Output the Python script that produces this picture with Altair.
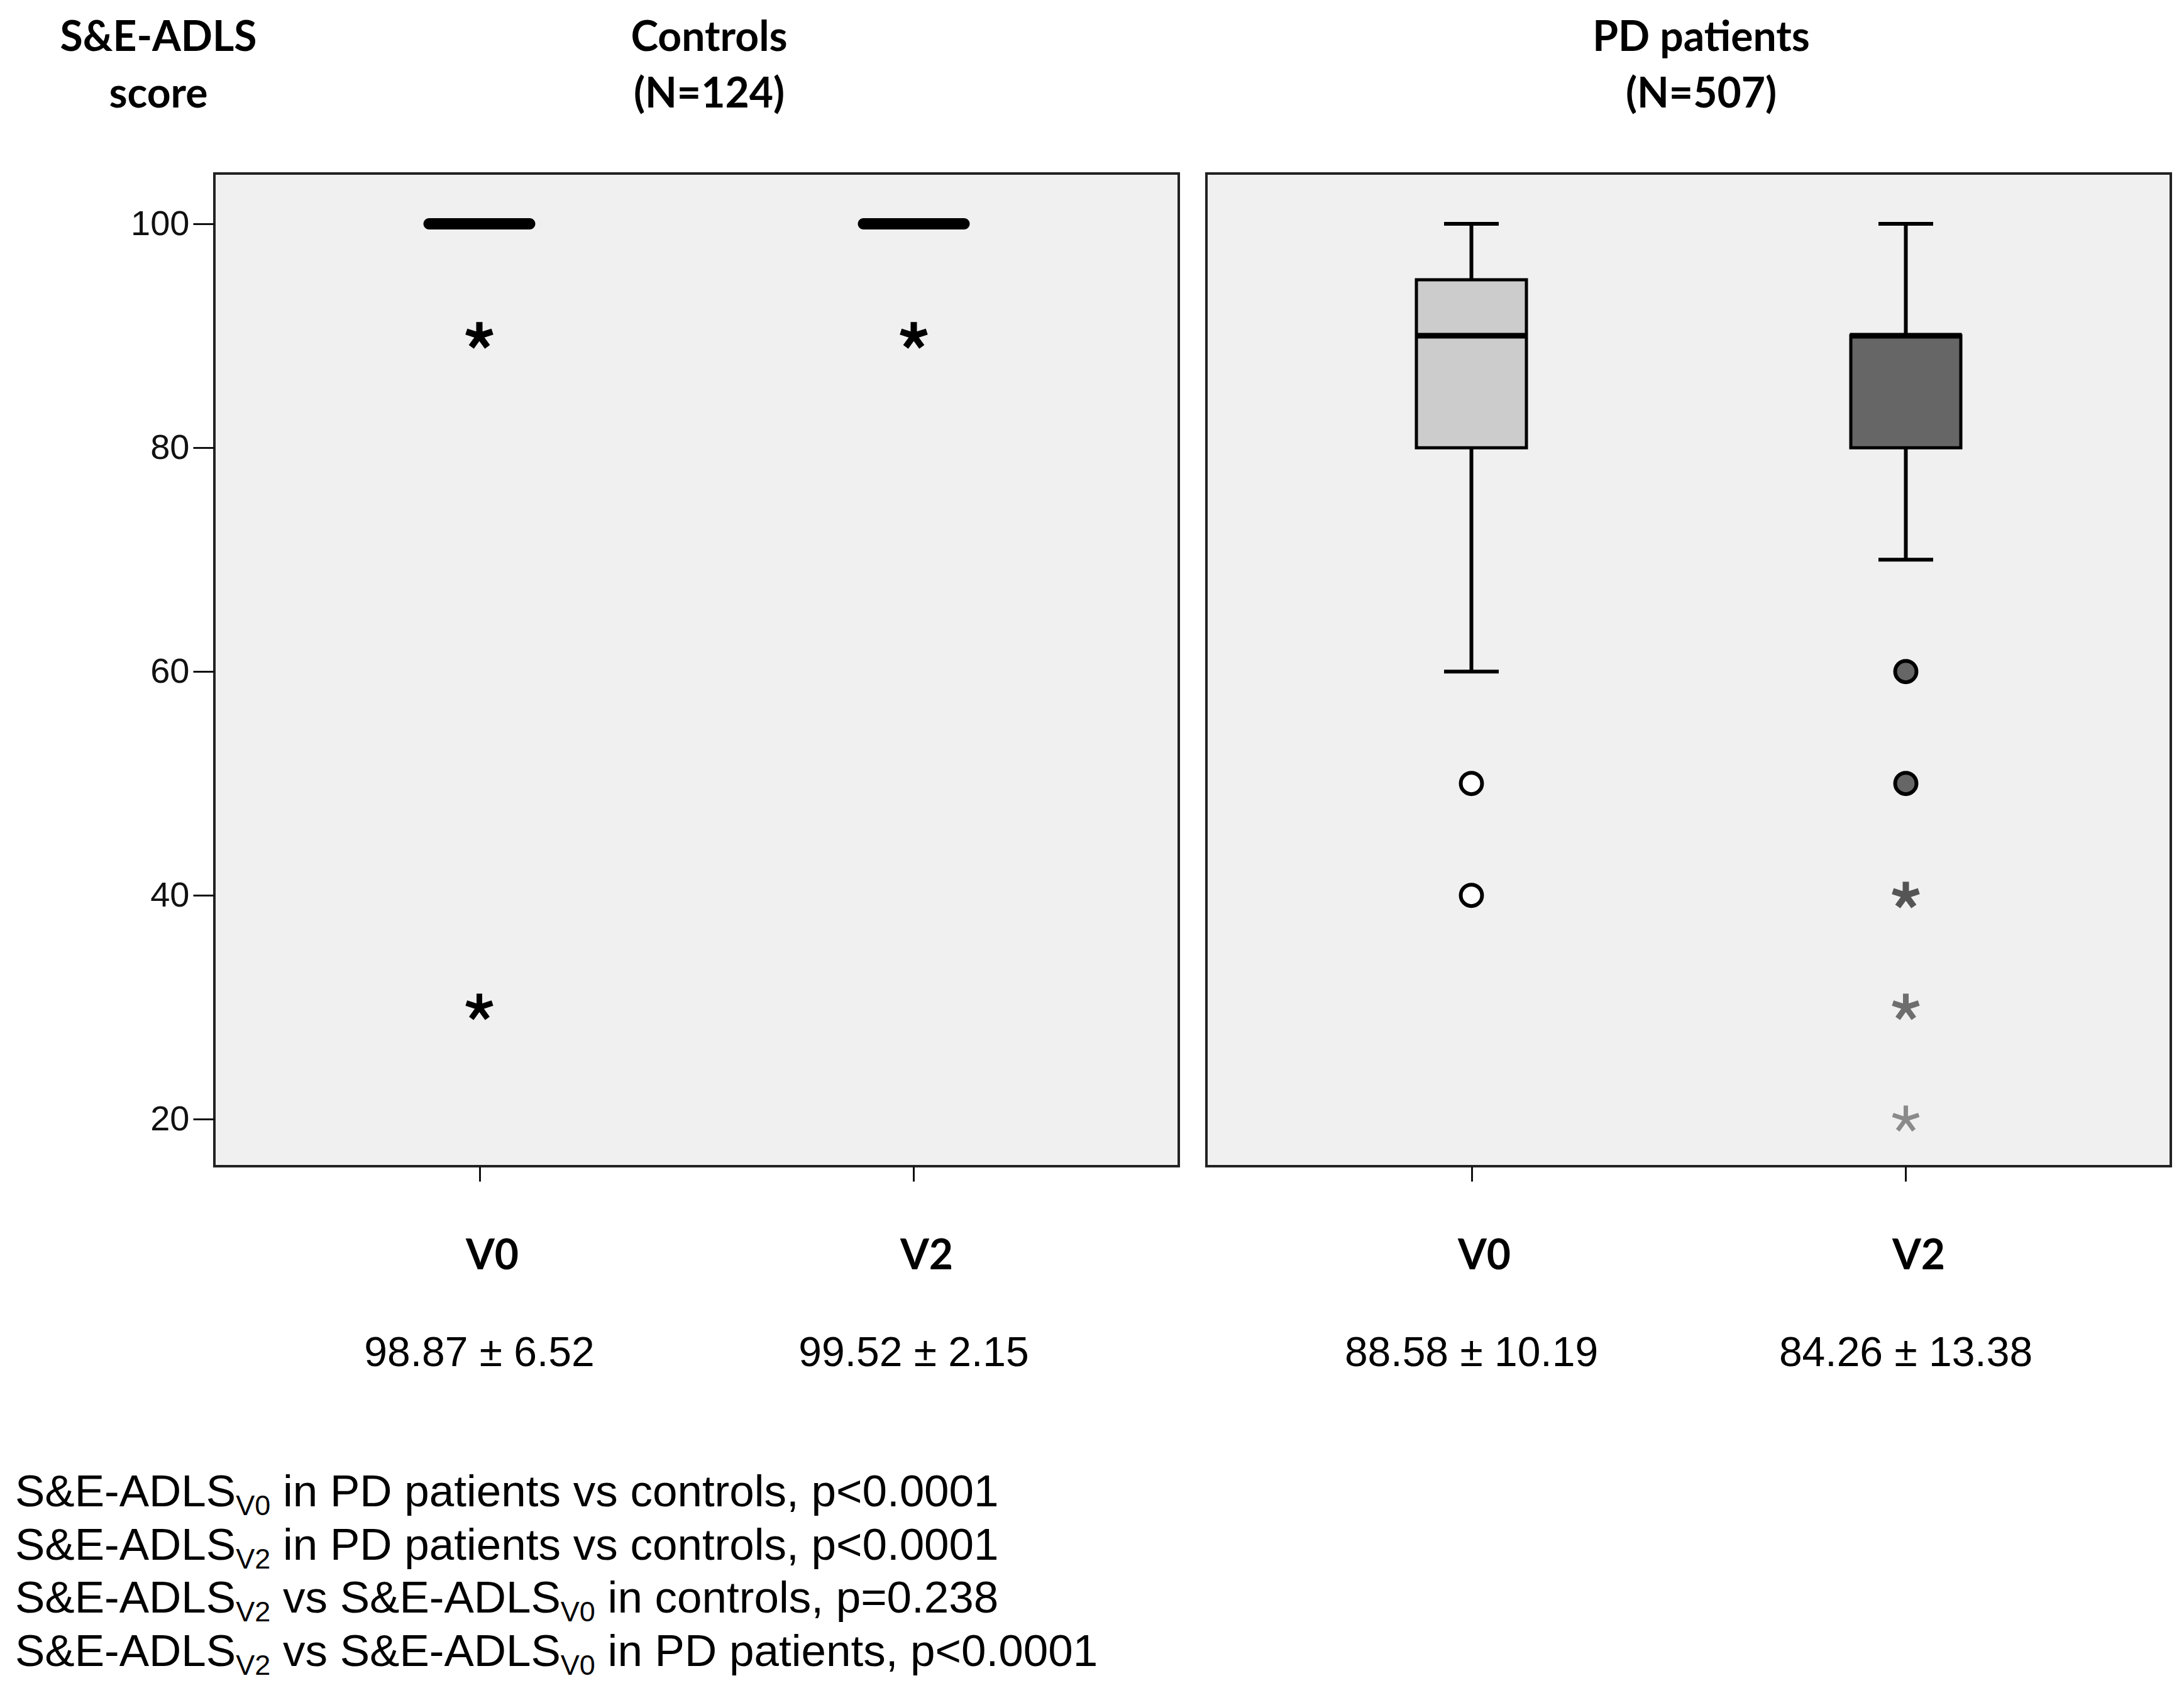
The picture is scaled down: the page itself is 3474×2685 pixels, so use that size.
import altair as alt
import pandas as pd

# ---------------- data ----------------
groups = ["Controls", "PD patients"]
group_n = ["(N=124)", "(N=507)"]
visits = ["V0", "V2"]

whisker_low = [[100, 100], [60, 70]]
q1 = [[100, 100], [80, 80]]
median = [[100, 100], [90, 90]]
q3 = [[100, 100], [95, 90]]
whisker_high = [[100, 100], [100, 100]]

# outliers (circles): group index, visit, value
out_group = [1, 1, 1, 1]
out_visit = ["V0", "V0", "V2", "V2"]
out_value = [50, 40, 60, 50]

# extremes (asterisks)
ext_group = [0, 0, 0, 1, 1, 1]
ext_visit = ["V0", "V0", "V2", "V2", "V2", "V2"]
ext_value = [90, 30, 90, 40, 30, 20]

mean_sd = [["98.87 ± 6.52", "99.52 ± 2.15"], ["88.58 ± 10.19", "84.26 ± 13.38"]]

y_title = ["S&E-ADLS", "score"]
y_ticks = [20, 40, 60, 80, 100]

foot_lines = [
    [("S&E-ADLS", "m"), ("V0", "s"), (" in PD patients vs controls, p<0.0001", "m")],
    [("S&E-ADLS", "m"), ("V2", "s"), (" in PD patients vs controls, p<0.0001", "m")],
    [("S&E-ADLS", "m"), ("V2", "s"), (" vs S&E-ADLS", "m"), ("V0", "s"), (" in controls, p=0.238", "m")],
    [("S&E-ADLS", "m"), ("V2", "s"), (" vs S&E-ADLS", "m"), ("V0", "s"), (" in PD patients, p<0.0001", "m")],
]

# ---------------- styles ----------------
W, H = 1534, 1579
Y_DOMAIN = [15.8, 104.5]
BOX_FILL = {"V0": "#cccccc", "V2": "#666666"}
OUT_FILL = {"V0": "#ffffff", "V2": "#666666"}
EXT_COLOR = ["#000000", "#000000", "#000000", "#555555", "#6e6e6e", "#8a8a8a"]
EXT_WIDTH = [10, 9, 10, 10, 9, 7]
MEDIAN_THICK = [18, 9]
STAR = ("M0,0L0,-1M0,0L0.951,-0.309M0,0L0.588,0.809M0,0L-0.588,0.809M0,0L-0.951,-0.309")
BOLD_FONT = "Lato"
REG_FONT = "Liberation Sans"

ARIAL = {' ': 278, '&': 667, ',': 278, '-': 333, '.': 278, '<': 584, '=': 584, 'A': 667,
         'D': 722, 'E': 667, 'L': 556, 'P': 667, 'S': 667, 'V': 667, 'a': 556, 'c': 500,
         'e': 556, 'i': 222, 'l': 222, 'n': 556, 'o': 556, 'p': 556, 'r': 333, 's': 500,
         't': 278, 'v': 500}
for d in "0123456789":
    ARIAL[d] = 556

MAIN_SIZE, SUB_SIZE = 71, 45
FOOT_X0 = -317
FOOT_Y0 = 2120
FOOT_DY = 84.7
SUB_DROP = 14


def text_width(s, size):
    return sum(ARIAL.get(c, 556) for c in s) * size / 1000.0


foot_rows = []
for li, segs in enumerate(foot_lines):
    x = FOOT_X0
    for txt, kind in segs:
        size = MAIN_SIZE if kind == "m" else SUB_SIZE
        y = FOOT_Y0 + li * FOOT_DY + (0 if kind == "m" else SUB_DROP)
        lead = len(txt) - len(txt.lstrip(" "))
        x += text_width(" " * lead, size)
        body = txt.lstrip(" ")
        foot_rows.append({"t": body, "kind": kind, "px": x, "py": y})
        x += text_width(body, size)
foot_df = pd.DataFrame(foot_rows)

x_scale = alt.Scale(type="point", domain=visits, padding=0.61)
y_scale = alt.Scale(domain=Y_DOMAIN, nice=False, zero=False)


def make_panel(gi):
    box_df = pd.DataFrame({
        "visit": visits,
        "lo": whisker_low[gi], "q1": q1[gi], "med": median[gi],
        "q3": q3[gi], "hi": whisker_high[gi], "mean": mean_sd[gi],
        "fillc": [BOX_FILL[v] for v in visits],
    })
    caps_df = pd.DataFrame({
        "visit": visits * 2,
        "v": whisker_low[gi] + whisker_high[gi],
    })
    out_df = pd.DataFrame({"visit": out_visit, "v": out_value, "g": out_group})
    out_df = out_df[out_df.g == gi].copy()
    out_df["fillc"] = [OUT_FILL[v] for v in out_df.visit]
    ext_df = pd.DataFrame({"visit": ext_visit, "v": ext_value, "g": ext_group,
                           "col": EXT_COLOR, "sw": EXT_WIDTH})
    ext_df = ext_df[ext_df.g == gi]

    if gi == 0:
        y_axis = alt.Axis(values=y_ticks, title=None, domain=False, grid=False,
                          tickSize=34, tickWidth=3, tickColor="#111111",
                          labelFont=REG_FONT, labelFontSize=56, labelColor="#111111",
                          labelPadding=6)
    else:
        y_axis = None
    x_axis = alt.Axis(title=None, domain=False, grid=False, labelAngle=0,
                      tickSize=24, tickWidth=3, tickColor="#111111",
                      labelFont=BOLD_FONT, labelFontWeight="bold", labelFontSize=66,
                      labelColor="#000000", labelBaseline="alphabetic",
                      labelPadding=139, labelOffset=20)

    base = alt.Chart(box_df)
    X = alt.X("visit:N", scale=x_scale, axis=x_axis, sort=visits)

    whisk = base.mark_rule(color="#000000", strokeWidth=6).encode(
        x=X, y=alt.Y("lo:Q", scale=y_scale, axis=y_axis), y2="hi:Q")
    caps = alt.Chart(caps_df).mark_tick(color="#000000", size=87, thickness=6,
                                        opacity=1).encode(
        x=X, y=alt.Y("v:Q", scale=y_scale))
    box = base.mark_bar(size=175, stroke="#000000", strokeWidth=5, opacity=1).encode(
        x=X, y=alt.Y("q1:Q", scale=y_scale), y2="q3:Q",
        fill=alt.Fill("fillc:N", scale=None))
    med = base.mark_tick(color="#000000", size=178, thickness=MEDIAN_THICK[gi], opacity=1,
                         cornerRadius=MEDIAN_THICK[gi] / 2 if gi == 0 else 0).encode(
        x=X, y=alt.Y("med:Q", scale=y_scale))
    layers = [whisk, caps, box, med]
    if len(out_df):
        layers.append(alt.Chart(out_df).mark_point(
            shape="circle", filled=True, size=1150, stroke="#000000", strokeWidth=6,
            opacity=1).encode(
            x=X, y=alt.Y("v:Q", scale=y_scale),
            fill=alt.Fill("fillc:N", scale=None)))
    if len(ext_df):
        layers.append(alt.Chart(ext_df).mark_point(
            shape=STAR, filled=False, size=1900, opacity=1).encode(
            x=X, y=alt.Y("v:Q", scale=y_scale),
            stroke=alt.Stroke("col:N", scale=None),
            strokeWidth=alt.StrokeWidth("sw:Q", scale=None)))
    # mean +- sd under each visit
    layers.append(base.mark_text(font=REG_FONT, fontSize=66, color="#000000",
                                 baseline="alphabetic", align="center").encode(
        x=X, y=alt.value(H + 318), text="mean:N"))
    # panel title
    layers.append(alt.Chart(pd.DataFrame({"k": [0]})).mark_text(
        text=[groups[gi], group_n[gi]], font=BOLD_FONT, fontWeight="bold", fontSize=66,
        lineHeight=90, baseline="alphabetic", align="center", color="#000000").encode(
        x=alt.value(W / 2 + 20), y=alt.value(-195)))
    if gi == 0:
        layers.append(alt.Chart(pd.DataFrame({"k": [0]})).mark_text(
            text=y_title, font=BOLD_FONT, fontWeight="bold", fontSize=66,
            lineHeight=90, baseline="alphabetic", align="center", color="#000000").encode(
            x=alt.value(-89), y=alt.value(-195)))
        layers.append(alt.Chart(foot_df[foot_df.kind == "m"]).mark_text(
            font=REG_FONT, fontSize=MAIN_SIZE, baseline="alphabetic", align="left",
            color="#000000").encode(
            x=alt.X("px:Q", scale=None), y=alt.Y("py:Q", scale=None), text="t:N"))
        layers.append(alt.Chart(foot_df[foot_df.kind == "s"]).mark_text(
            font=REG_FONT, fontSize=SUB_SIZE, baseline="alphabetic", align="left",
            color="#000000").encode(
            x=alt.X("px:Q", scale=None), y=alt.Y("py:Q", scale=None), text="t:N"))
    return alt.layer(*layers).properties(width=W, height=H)


chart = alt.hconcat(make_panel(0), make_panel(1), spacing=44, bounds="flush").properties(
    padding={"left": 14, "top": 18, "right": 0, "bottom": 0},
    background="#ffffff",
).configure_view(
    fill="#f0f0f0", stroke="#222222", strokeWidth=4
)

chart.save("out.html", embed_options={"renderer": "svg", "actions": False})
